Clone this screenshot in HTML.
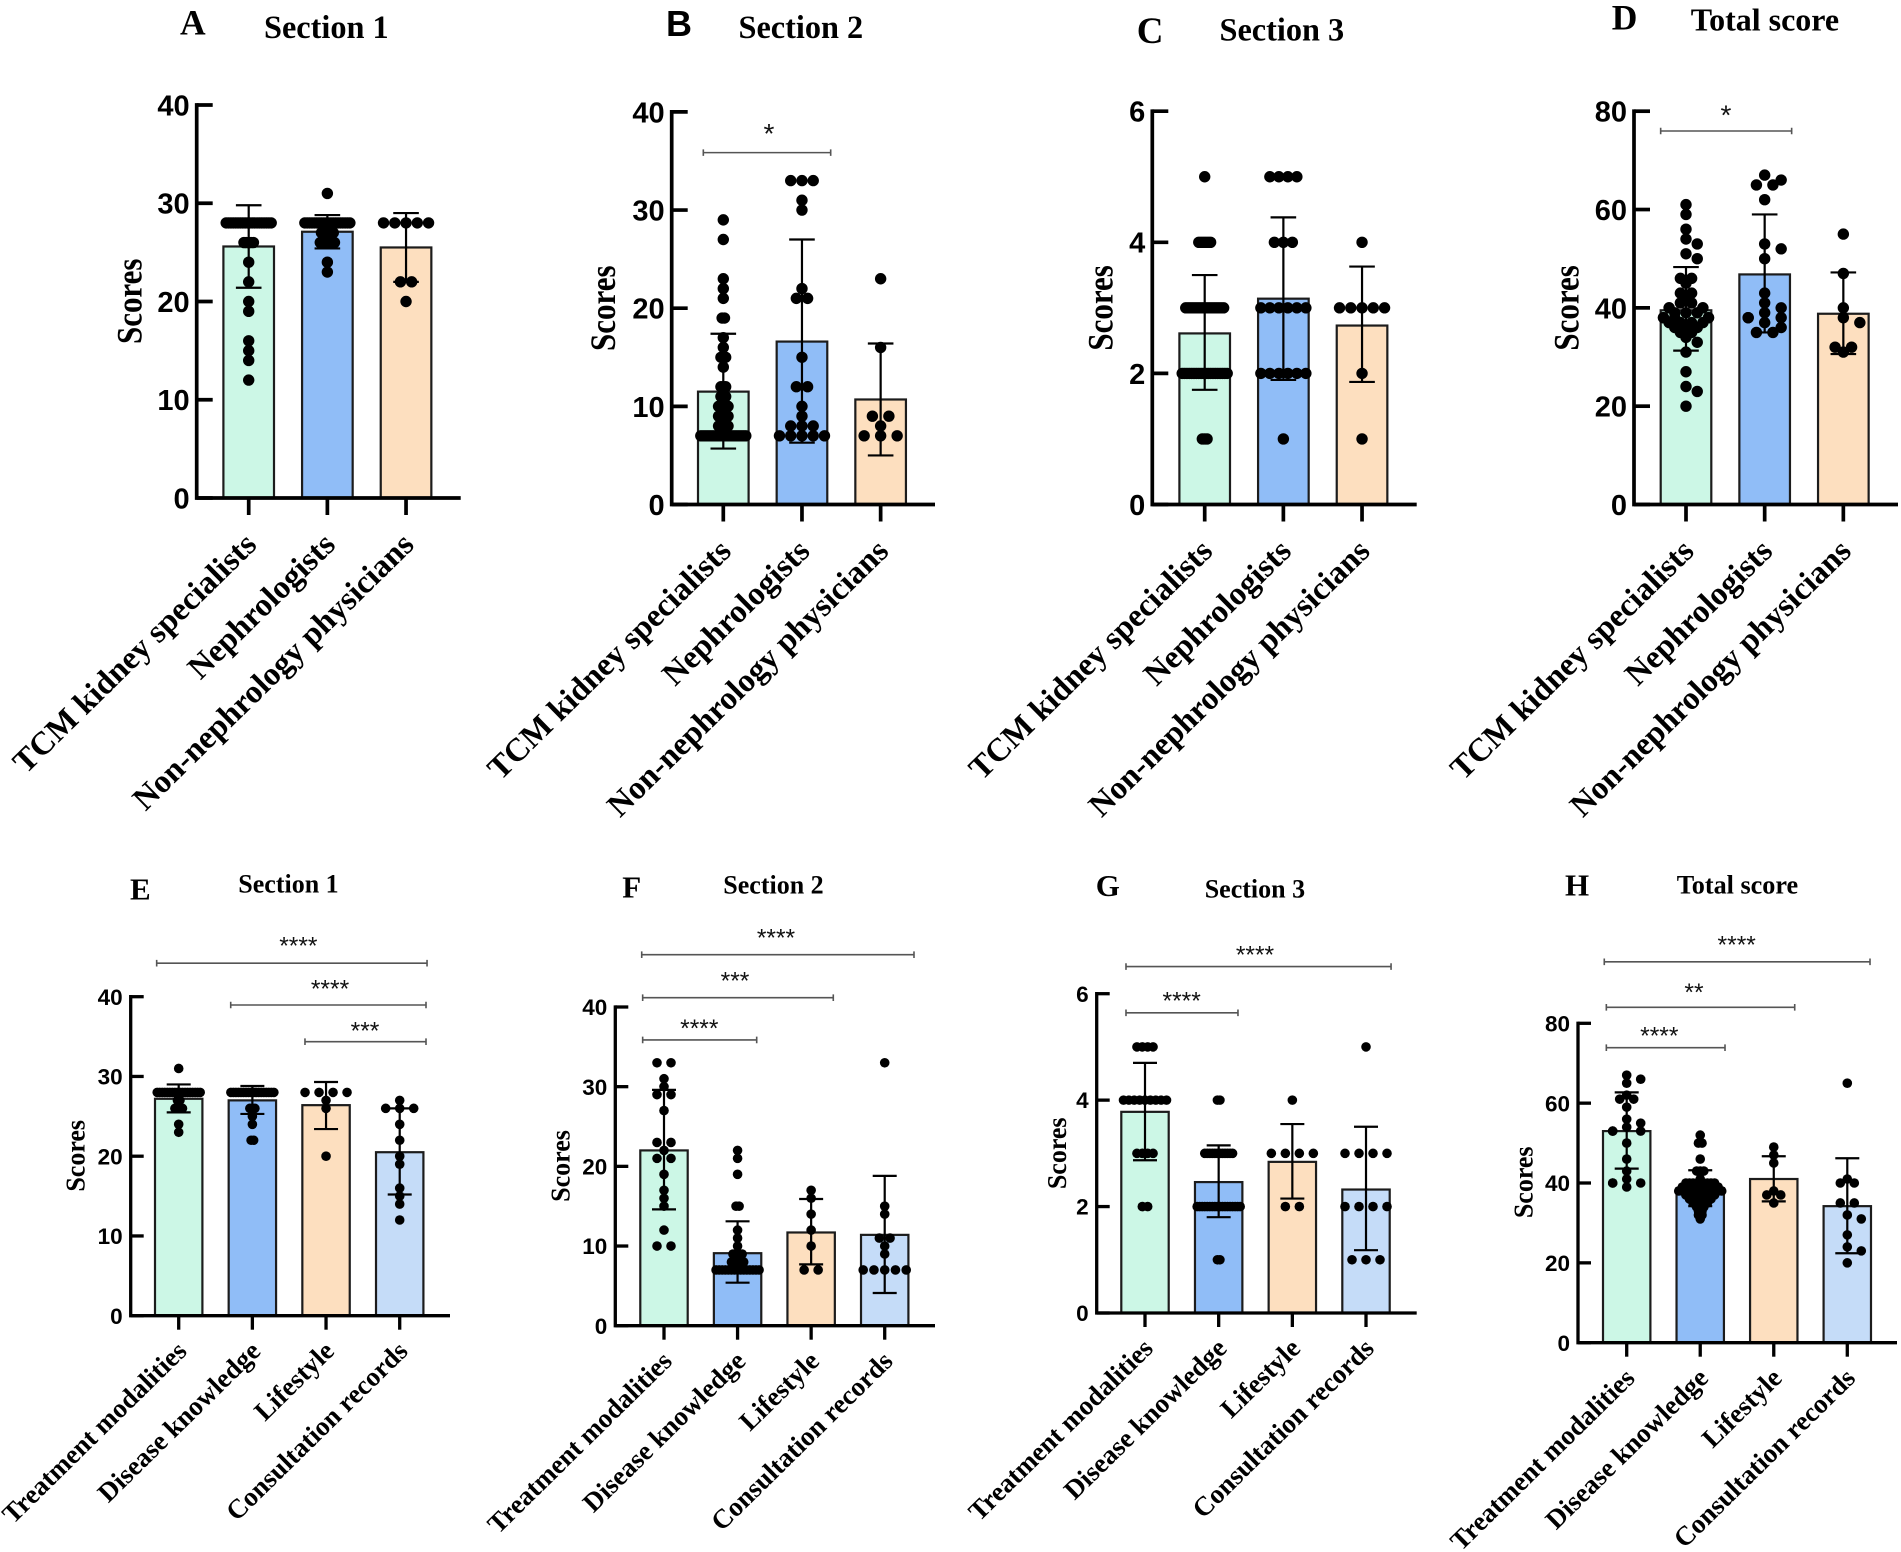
<!DOCTYPE html>
<html lang="en">
<head>
<meta charset="utf-8">
<title>Score comparison panels</title>
<style>
html,body{margin:0;padding:0;background:#fff;}
svg{display:block;}
.letter{font-family:"Liberation Serif",serif;font-weight:bold;fill:#000;}
.title{font-family:"Liberation Serif",serif;font-weight:bold;fill:#000;}
.ytitle{font-family:"Liberation Serif",serif;font-weight:bold;fill:#000;}
</style>
</head>
<body>
<svg id="figure" xmlns="http://www.w3.org/2000/svg" width="1901" height="1552" viewBox="0 0 1901 1552">
<rect width="1901" height="1552" fill="#fff"/>

<text class="letter" x="180" y="34.4" font-size="35.5">A</text>
<text class="letter" x="666" y="36.2" font-size="36" style="font-family:'Liberation Sans',sans-serif">B</text>
<text class="letter" x="1136.7" y="43" font-size="37">C</text>
<text class="letter" x="1611.7" y="29.3" font-size="35.5">D</text>
<text class="letter" x="130" y="899.3" font-size="31">E</text>
<text class="letter" x="622.3" y="897.3" font-size="31">F</text>
<text class="letter" x="1095.7" y="896" font-size="31">G</text>
<text class="letter" x="1565" y="895.7" font-size="31">H</text>

<text class="title" x="264" y="37.9" font-size="32.3">Section 1</text>
<text class="title" x="738.5" y="37.9" font-size="32.3">Section 2</text>
<text class="title" x="1219.5" y="40.3" font-size="32.3">Section 3</text>
<text class="title" x="1690.7" y="30.3" font-size="32">Total score</text>
<text class="title" x="238.3" y="892.7" font-size="26">Section 1</text>
<text class="title" x="723.3" y="893.3" font-size="26">Section 2</text>
<text class="title" x="1204.7" y="897.3" font-size="26">Section 3</text>
<text class="title" x="1676.7" y="893.3" font-size="26.2">Total score</text>

<text class="ytitle" text-anchor="middle" font-size="31" transform="translate(141.7 301.3) rotate(-90) scale(1 1.17)">Scores</text>
<text class="ytitle" text-anchor="middle" font-size="31" transform="translate(615 308.2) rotate(-90) scale(1 1.17)">Scores</text>
<text class="ytitle" text-anchor="middle" font-size="31" transform="translate(1112.7 307.9) rotate(-90) scale(1 1.17)">Scores</text>
<text class="ytitle" text-anchor="middle" font-size="31" transform="translate(1578.3 307.9) rotate(-90) scale(1 1.17)">Scores</text>
<text class="ytitle" text-anchor="middle" font-size="26" transform="translate(84.3 1155.8) rotate(-90) scale(1 1.05)">Scores</text>
<text class="ytitle" text-anchor="middle" font-size="26" transform="translate(569.3 1166) rotate(-90) scale(1 1.05)">Scores</text>
<text class="ytitle" text-anchor="middle" font-size="26" transform="translate(1066 1153.3) rotate(-90) scale(1 1.05)">Scores</text>
<text class="ytitle" text-anchor="middle" font-size="26" transform="translate(1532.3 1182.3) rotate(-90) scale(1 1.05)">Scores</text>
</svg>

<script>
const physicianCategories = ["TCM kidney specialists", "Nephrologists", "Non-nephrology physicians"];
const topicCategories = ["Treatment modalities", "Disease knowledge", "Lifestyle", "Consultation records"];
const barColors = ["#ccf7e6", "#90bdf7", "#fddfbf", "#c5dcf8"];

const ticksSection12 = [0, 10, 20, 30, 40];
const ticksSection3 = [0, 2, 4, 6];
const ticksTotal = [0, 20, 40, 60, 80];

const aMeans = [25.6, 27.1, 25.5];
const aErrHigh = [29.8, 28.8, 29];
const aErrLow = [21.4, 25.4, 22];
const aDots0 = [12,14,15,16,19,20,22,24,26,26,26,26,26,28,28,28,28,28,28,28,28,28,28,28,28,28,28,28,28,28,28,28,28];
const aDots1 = [23,24,26,26,26,26,26,26,26,27,27,27,27,27,27,28,28,28,28,28,28,28,28,28,28,28,28,28,28,28,28,28,28,28,28,31];
const aDots2 = [20,22,22,28,28,28,28,28];

const bMeans = [11.5, 16.6, 10.7];
const bErrHigh = [17.4, 27, 16.4];
const bErrLow = [5.7, 6.3, 5];
const bDots0 = [29,27,23,22,21,19,19,17,16,15,15,15,14,12,12,12,11,11,11,10,10,10,10,10,9,9,9,9,9,8,8,8,8,8,7,7,7,7,7,7,7,7,7,7,7,7,7,7,7,7,7,7,7,7];
const bDots1 = [33,33,33,31,30,22,21,21,15,12,12,10,9,8,8,8,7,7,7,7,7];
const bDots2 = [23,16,9,9,8,7,7,7];
const bBrackets = [[-0.254, 1.365, 35.85, "*", 0.581, 38.45]];

const cMeans = [2.61, 3.14, 2.73];
const cErrHigh = [3.5, 4.38, 3.63];
const cErrLow = [1.75, 1.9, 1.87];
const cDots0 = [5,4,4,4,4,4,4,3,3,3,3,3,3,3,3,3,3,3,3,3,3,3,3,3,2,2,2,2,2,2,2,2,2,2,2,2,2,2,2,2,2,2,2,2,1,1,1];
const cDots1 = [5,5,5,5,4,4,4,3,3,3,3,3,3,2,2,2,2,2,2,1];
const cDots2 = [4,3,3,3,3,3,2,1];

const dMeans = [39.5, 46.8, 38.8];
const dErrHigh = [48.3, 59, 47.2];
const dErrLow = [31.3, 35, 30.6];
const dDots0 = [61,59,56,54,53,51,50,46,46,45,43,43,42,41,41,40,40,40,40,39,39,39,38,38,38,38,38,37,37,37,37,36,36,36,35,35,34,33,31,27,24,23,20];
const dDots1 = [67,66,65,65,62,53,52,50,43,41,40,39,38,38,38,37,36,35,35];
const dDots2 = [55,47,40,38,37,32,32,31];
const dBrackets = [[-0.322, 1.343, 75.97, "*", 0.508, 80.5]];

const eMeans = [27.2, 27, 26.4, 20.5];
const eErrHigh = [29, 28.8, 29.3, 26];
const eErrLow = [25.5, 25.3, 23.4, 15.2];
const eDots0 = [31,28,28,28,28,28,28,28,28,28,28,28,28,28,28,28,28,28,28,27,27,26,26,26,26,24,23];
const eDots1 = [28,28,28,28,28,28,28,28,28,28,28,28,28,28,28,28,28,28,26,26,26,25,24,22,22];
const eDots2 = [28,28,28,28,27,26,20];
const eDots3 = [27,26,26,26,24,22,20,19,16,15,14,12];
const eBrackets = [
  [-0.299, 3.371, 44.2, "****", 1.624, 46.95],
  [0.706, 3.357, 38.96, "****", 2.054, 41.55],
  [1.714, 3.357, 34.36, "***", 2.529, 36.24]
];

const fMeans = [22, 9.1, 11.7, 11.4];
const fErrHigh = [29.6, 13.1, 15.9, 18.8];
const fErrLow = [14.6, 5.4, 7.7, 4.1];
const fDots0 = [33,33,31,30,29,29,27,23,23,22,21,21,19,17,16,15,12,10,10];
const fDots1 = [22,21,19,15,15,12,11,10,9,9,9,9,8,8,8,8,8,7,7,7,7,7,7,7,7,7,7,7,7,7,7,7];
const fDots2 = [17,16,14,12,10,7,7];
const fDots3 = [33,15,14,11,11,10,9,7,7,7,7,7];
const fBrackets = [
  [-0.303, 3.398, 46.57, "****", 1.522, 49.25],
  [-0.29, 2.301, 41.17, "***", 0.965, 43.8],
  [-0.29, 1.26, 35.86, "****", 0.48, 37.87]
];

const gMeans = [3.78, 2.46, 2.84, 2.32];
const gErrHigh = [4.7, 3.15, 3.55, 3.5];
const gErrLow = [2.87, 1.8, 2.15, 1.18];
const gDots0 = [5,5,5,5,4,4,4,4,4,4,4,4,4,3,3,3,3,2,2];
const gDots1 = [4,4,3,3,3,3,3,3,3,3,3,3,3,3,2,2,2,2,2,2,2,2,2,2,2,2,2,2,2,2,2,2,1,1];
const gDots2 = [4,3,3,3,3,2,2];
const gDots3 = [5,3,3,3,3,2,2,2,2,1,1,1];
const gBrackets = [
  [-0.258, 3.34, 6.51, "****", 1.493, 6.81],
  [-0.258, 1.262, 5.64, "****", 0.498, 5.945]
];

const hMeans = [53, 38.7, 41, 34.2];
const hErrHigh = [62.7, 43.2, 46.7, 46.2];
const hErrLow = [43.6, 34.2, 35.4, 22.4];
const hDots0 = [67,66,65,62,61,61,59,56,55,54,53,53,53,50,46,43,41,40,40,40,39];
const hDots1 = [52,50,50,46,43,43,43,41,40,40,40,40,40,40,40,40,40,39,39,39,39,39,39,39,39,39,39,39,38,38,38,38,38,38,38,38,38,38,38,38,38,37,37,37,37,37,37,37,37,37,36,36,36,36,36,36,36,35,35,35,35,35,34,34,34,33,33,32,32,31];
const hDots2 = [49,47,45,38,37,37,35];
const hDots3 = [65,41,40,40,35,35,32,31,27,24,23,20];
const hBrackets = [
  [-0.305, 3.309, 95.4, "****", 1.496, 100.7],
  [-0.277, 2.285, 84, "**", 0.915, 88.9],
  [-0.277, 1.337, 73.9, "****", 0.443, 78]
];

const panels = [
  {id:"a", cats:physicianCategories, means:aMeans, hi:aErrHigh, lo:aErrLow, dots:[aDots0,aDots1,aDots2], ticks:ticksSection12, brackets:[], big:true, axisX:196.7, axisEnd:460.7, y0:498, yTop:105, c0:248.7, step:78.67, labelDy:48.5},
  {id:"b", cats:physicianCategories, means:bMeans, hi:bErrHigh, lo:bErrLow, dots:[bDots0,bDots1,bDots2], ticks:ticksSection12, brackets:bBrackets, big:true, axisX:671.7, axisEnd:935, y0:504.5, yTop:111.9, c0:723.3, step:78.67, labelDy:48.5},
  {id:"c", cats:physicianCategories, means:cMeans, hi:cErrHigh, lo:cErrLow, dots:[cDots0,cDots1,cDots2], ticks:ticksSection3, brackets:[], big:true, axisX:1152.3, axisEnd:1416.7, y0:504.5, yTop:111.2, c0:1204.7, step:78.67, labelDy:48.5},
  {id:"d", cats:physicianCategories, means:dMeans, hi:dErrHigh, lo:dErrLow, dots:[dDots0,dDots1,dDots2], ticks:ticksTotal, brackets:dBrackets, big:true, axisX:1634, axisEnd:1898, y0:504.5, yTop:111.2, c0:1686, step:78.67, labelDy:48.5},
  {id:"e", cats:topicCategories, means:eMeans, hi:eErrHigh, lo:eErrLow, dots:[eDots0,eDots1,eDots2,eDots3], ticks:ticksSection12, brackets:eBrackets, big:false, axisX:130.7, axisEnd:450, y0:1315.7, yTop:996.7, c0:178.7, step:73.67, labelDy:37},
  {id:"f", cats:topicCategories, means:fMeans, hi:fErrHigh, lo:fErrLow, dots:[fDots0,fDots1,fDots2,fDots3], ticks:ticksSection12, brackets:fBrackets, big:false, axisX:615.3, axisEnd:935, y0:1325.7, yTop:1007, c0:664, step:73.57, labelDy:37},
  {id:"g", cats:topicCategories, means:gMeans, hi:gErrHigh, lo:gErrLow, dots:[gDots0,gDots1,gDots2,gDots3], ticks:ticksSection3, brackets:gBrackets, big:false, axisX:1096.7, axisEnd:1416.7, y0:1313, yTop:993.7, c0:1145, step:73.67, labelDy:37},
  {id:"h", cats:topicCategories, means:hMeans, hi:hErrHigh, lo:hErrLow, dots:[hDots0,hDots1,hDots2,hDots3], ticks:ticksTotal, brackets:hBrackets, big:false, axisX:1578, axisEnd:1897, y0:1342.7, yTop:1023.3, c0:1626.7, step:73.53, labelDy:37}
];

const NS = "http://www.w3.org/2000/svg";
const figure = document.getElementById("figure");

function make(parent, tag, props) {
  const node = document.createElementNS(NS, tag);
  for (const k in props) node.setAttribute(k, props[k]);
  parent.appendChild(node);
  return node;
}

function slotOrder(parityOdd, limit) {
  const out = [];
  if (parityOdd) {
    out.push(0);
    for (let k = 1; k <= limit; k++) { out.push(k); out.push(-k); }
  } else {
    for (let k = 0.5; k <= limit + 0.01; k++) { out.push(k); out.push(-k); }
  }
  return out;
}

function swarm(values, pxPerUnit, width, cap) {
  const counts = new Map();
  values.forEach(function (v) { counts.set(v, (counts.get(v) || 0) + 1); });
  const rows = Array.from(counts.entries()).sort(function (p, q) { return q[0] - p[0]; });
  const maxRow = Math.max.apply(null, rows.map(function (r) { return r[1]; }));
  const spacing = maxRow > 1 ? Math.min(width / (maxRow - 1), cap) : cap;
  const dense = spacing < 6;
  const limit = Math.max(1, (maxRow - 1) / 2);
  const placed = [];
  rows.forEach(function (row) {
    const v = row[0], n = row[1];
    const odd = n % 2 === 1;
    const nominal = slotOrder(odd, Math.max((n - 1) / 2, odd ? 0 : 0.5));
    const candidates = slotOrder(odd, Math.max(limit, (n - 1) / 2));
    for (let k = 0; k < n; k++) {
      let slot = nominal[k];
      if (!dense) {
        for (let c = 0; c < candidates.length; c++) {
          const s = candidates[c];
          const hit = placed.some(function (d) {
            return Math.abs(d.slot - s) < 0.4 && Math.abs(d.v - v) * pxPerUnit < 7.5;
          });
          if (!hit) { slot = s; break; }
        }
      }
      placed.push({v: v, slot: slot});
    }
  });
  return placed.map(function (d) { return {v: d.v, dx: d.slot * spacing}; });
}

panels.forEach(function (p) {
  const yMax = p.ticks[p.ticks.length - 1];
  const unit = (p.y0 - p.yTop) / yMax;
  const yScale = function (v) { return p.y0 - v * unit; };
  const xScale = function (i) { return p.c0 + i * p.step; };
  const big = p.big;
  const barHalf = big ? 25.3 : 23.7;
  const capHalf = big ? 12.8 : 12;
  const dotR = big ? 5.7 : 4.8;
  const axisW = big ? 3.7 : 3.3;
  const tickLen = big ? 16 : 13;

  const g = make(figure, "g", {});
  
  

  p.means.forEach(function (m, i) {
    const bar = make(g, "rect", {x: xScale(i) - barHalf, y: yScale(m), width: barHalf * 2, height: p.y0 - yScale(m), fill: barColors[i], stroke: "#1c1c1c", "stroke-width": 2.2});
    
    
  });

  p.dots.forEach(function (vals, i) {
    const pts = swarm(vals, unit, big ? 45 : 43, big ? 16.5 : 14);
    pts.forEach(function (pt) {
      const dot = make(g, "circle", {cx: xScale(i) + pt.dx, cy: yScale(pt.v), r: dotR, fill: "#000"});
      
      
    });
  });

  p.means.forEach(function (m, i) {
    const cx = xScale(i);
    const yHi = yScale(p.hi[i]), yLo = yScale(p.lo[i]);
    const err = make(g, "path", {d: "M" + (cx - capHalf) + " " + yHi + "H" + (cx + capHalf) + "M" + cx + " " + yHi + "V" + yLo + "M" + (cx - capHalf) + " " + yLo + "H" + (cx + capHalf), fill: "none", stroke: "#000", "stroke-width": 2.2});
    
    
  });

  const axis = make(g, "path", {d: "M" + p.axisX + " " + (p.yTop - axisW / 2) + "V" + p.y0 + "H" + p.axisEnd, fill: "none", stroke: "#000", "stroke-width": axisW});
  
  

  p.ticks.forEach(function (t) {
    const ty = yScale(t);
    const tick = make(g, "line", {x1: p.axisX, x2: p.axisX + tickLen, y1: ty, y2: ty, stroke: "#000", "stroke-width": axisW});
    
    
    const lab = make(g, "text", {x: p.axisX - (big ? 7 : 8), y: ty, dy: "0.36em", "text-anchor": "end", "font-family": '"Liberation Sans", sans-serif', "font-weight": "bold", "font-size": big ? 29 : 22.5, fill: "#000"});
    lab.textContent = String(t);
    
    
  });

  p.cats.forEach(function (c, i) {
    const cx = xScale(i);
    const tick = make(g, "line", {x1: cx, x2: cx, y1: p.y0, y2: p.y0 + tickLen + 1, stroke: "#000", "stroke-width": axisW});
    
    
    const lx = cx + 9.5, ly = p.y0 + p.labelDy;
    const lab = make(g, "text", {transform: "translate(" + lx + " " + ly + ") rotate(-44.5)", "text-anchor": "end", "font-family": '"Liberation Serif", serif', "font-weight": "bold", "font-size": big ? 32.6 : 27, fill: "#000"});
    lab.textContent = c;
    
    
  });

  p.brackets.forEach(function (b, k) {
    const x1 = xScale(b[0]), x2 = xScale(b[1]), by = yScale(b[2]);
    const br = make(g, "path", {d: "M" + x1 + " " + (by - 3.3) + "V" + (by + 3.3) + "M" + x1 + " " + by + "H" + x2 + "M" + x2 + " " + (by - 3.3) + "V" + (by + 3.3), fill: "none", stroke: "#555", "stroke-width": 1.6});
    
    
    const st = make(g, "text", {x: xScale(b[4]), y: yScale(b[5]) + (big ? 16 : 13), "text-anchor": "middle", "font-family": '"Liberation Sans", sans-serif', "font-size": big ? 28 : 24.6, fill: "#111"});
    st.textContent = b[3];
    
    
  });
});
</script>
</body>
</html>
